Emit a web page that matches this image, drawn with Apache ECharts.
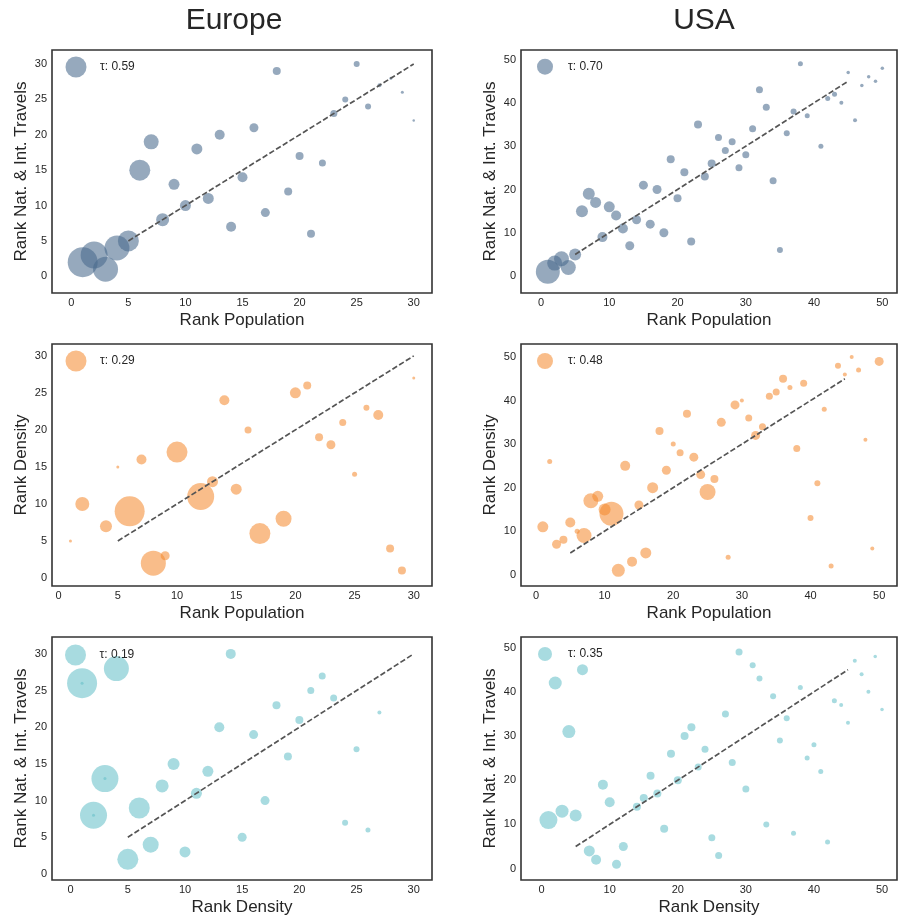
<!DOCTYPE html>
<html>
<head>
<meta charset="utf-8">
<script src="https://cdn.jsdelivr.net/npm/echarts@6/dist/echarts.min.js"></script>
<style>
html,body{margin:0;padding:0;background:#fff;}
#chart{width:898px;height:922px;}
</style>
</head>
<body>
<div id="chart"></div>
<script>
// ---------------- DATA ----------------
const columnTitles = ['Europe', 'USA'];
const euTicks = [0, 5, 10, 15, 20, 25, 30];
const usTicks = [0, 10, 20, 30, 40, 50];

// Europe: Rank Population vs Rank Nat. & Int. Travels
const euPopTravelX = [1,2,3,4,5,6,7,8,9,10,11,12,13,14,15,16,17,18,19,20,21,22,23,24,25,26,27,28,29,30];
const euPopTravelY = [2,3,1,4,5,15,19,8,13,10,18,11,20,7,14,21,9,29,12,17,6,16,23,25,30,24,27,28,26,22];
const euPopTravelW = [30,27,25,25,21,21,15,13,11,11,11,11,10,10,10,9,9,8,8,8,8,7,7,6,6,6,4,3,3,2.5];
const euPopTravelTau = 'τ: 0.59';

// Europe: Rank Population vs Rank Density
const euPopDensX = [1,2,4,5,6,7,8,9,10,12,13,14,15,16,17,19,20,21,22,23,24,25,26,27,28,29,30];
const euPopDensY = [5,10,7,15,9,16,2,3,17,11,13,24,12,20,6,8,25,26,19,18,21,14,23,22,4,1,27];
const euPopDensW = [3,14,12,3,30,10,25,9,21,27,11,10,11,7,21,16,11,8,8,9,7,5,6,10,8,8,3];
const euPopDensTau = 'τ: 0.29';

// Europe: Rank Density vs Rank Nat. & Int. Travels
const euDensTravelX = [1,2,3,4,5,6,7,8,9,10,11,12,13,14,15,16,17,18,19,20,21,22,23,24,25,26,27,1,2,3];
const euDensTravelY = [26,8,13,28,2,9,4,12,15,3,11,14,20,30,5,19,10,23,16,21,25,27,24,7,17,6,22,26,8,13];
const euDensTravelW = [30,27,27,25,21,21,16,13,12,11,11,11,10,10,9,9,9,8,8,8,7,7,7,6,6,5,4,3,3,3];
const euDensTravelTau = 'τ: 0.19';

// USA: Rank Population vs Rank Nat. & Int. Travels
const usPopTravelX = [1,2,3,4,5,6,7,8,9,10,11,12,13,14,15,16,17,18,19,20,21,22,23,24,25,26,27,28,29,30,31,32,33,34,35,36,37,38,39,41,42,43,44,45,46,47,48,49,50];
const usPopTravelY = [1,3,4,2,5,15,19,17,9,16,14,11,7,13,21,12,20,10,27,18,24,8,35,23,26,32,29,31,25,28,34,43,39,22,6,33,38,49,37,30,41,42,40,47,36,44,46,45,48];
const usPopTravelW = [24,15,15,15,12,12,12,11,10,11,10,10,9,9,9,9,9,9,8,8,8,8,8,8,8,7,7,7,7,7,7,7,7,7,6,6,6,5,5,5,5,5,4,3.5,4,3.5,3.5,3.5,3.5];
const usPopTravelTau = 'τ: 0.70';

// USA: Rank Population vs Rank Density
const usPopDensX = [1,2,3,4,5,6,7,8,9,10,11,12,13,14,15,16,17,18,19,20,21,22,23,24,25,26,27,28,29,30,31,32,33,34,35,36,37,38,39,40,41,42,43,44,45,46,47,48,49,50];
const usPopDensY = [11,26,7,8,12,10,9,17,18,15,14,1,25,3,16,5,20,33,24,30,28,37,27,23,19,22,35,4,39,40,36,32,34,41,42,45,43,29,44,13,21,38,2,48,46,50,47,31,6,49];
const usPopDensW = [11,5,9,8,10,5,15,15,11,12,24,13,10,10,9,11,11,8,9,5,7,8,9,9,16,8,9,5,9,4,7,9,7,7,7,8,5,7,7,6,6,5,5,6,4,4,5,4,4,9];
const usPopDensTau = 'τ: 0.48';

// USA: Rank Density vs Rank Nat. & Int. Travels
const usDensTravelX = [1,2,3,4,5,6,7,8,9,10,11,12,14,15,16,17,18,19,20,21,22,23,24,25,26,27,28,29,30,31,32,33,34,35,36,37,38,39,40,41,42,43,44,45,46,47,48,49,50];
const usDensTravelY = [11,42,13,31,12,45,4,2,19,15,1,5,14,16,21,17,9,26,20,30,32,23,27,7,3,35,24,49,18,46,43,10,39,29,34,8,41,25,28,22,6,38,37,33,47,44,40,48,36];
const usDensTravelW = [18,13,13,13,12,11,11,10,10,10,9,9,8,8,8,8,8,8,8,8,8,7,7,7,7,7,7,7,7,6,6,6,6,6,6,5,5,5,5,5,5,5,4,4,4,4,4,3.5,3.5];
const usDensTravelTau = 'τ: 0.35';

// reference diagonals (start, end)
const euDiagonal = [[5, 5], [30, 30]];
const usDiagonal = [[5, 5], [45, 45]];

// ---------------- STYLE ----------------
const FONT = "'Liberation Sans', Arial, sans-serif";
const TXT = '#262626';
const BLUE = 'rgba(72,105,141,0.72)';
const ORANGE = 'rgba(245,138,46,0.70)';
const CYAN = 'rgba(100,190,200,0.70)';
const BUBBLE_SCALE = 1;

const panels = [
  {grid:{left:52, top:50, width:380, height:243}, xr:[-1.69,31.6], yr:[-2.36,31.98], xt:euTicks, yt:euTicks,
   xs:euPopTravelX, ys:euPopTravelY, ws:euPopTravelW, color:BLUE, name:euPopTravelTau,
   xName:'Rank Population', yName:'Rank Nat. & Int. Travels', diag:euDiagonal,
   leg:{left:65.5, top:56.5, size:21, pad:8.5}},
  {grid:{left:521, top:50, width:376, height:243}, xr:[-2.93,52.15], yr:[-3.9,52.2], xt:usTicks, yt:usTicks,
   xs:usPopTravelX, ys:usPopTravelY, ws:usPopTravelW, color:BLUE, name:usPopTravelTau,
   xName:'Rank Population', yName:'Rank Nat. & Int. Travels', diag:usDiagonal,
   leg:{left:537, top:58.7, size:16, pad:10}},
  {grid:{left:52, top:344, width:380, height:242}, xr:[-0.56,31.54], yr:[-1.08,31.6], xt:euTicks, yt:euTicks,
   xs:euPopDensX, ys:euPopDensY, ws:euPopDensW, color:ORANGE, name:euPopDensTau,
   xName:'Rank Population', yName:'Rank Density', diag:euDiagonal,
   leg:{left:65.5, top:350.5, size:21, pad:8.5}},
  {grid:{left:521, top:344, width:376, height:242}, xr:[-2.18,52.6], yr:[-2.6,53.0], xt:usTicks, yt:usTicks,
   xs:usPopDensX, ys:usPopDensY, ws:usPopDensW, color:ORANGE, name:usPopDensTau,
   xName:'Rank Population', yName:'Rank Density', diag:usDiagonal,
   leg:{left:537, top:353, size:16, pad:10}},
  {grid:{left:52, top:637, width:380, height:243}, xr:[-1.63,31.6], yr:[-0.82,32.3], xt:euTicks, yt:euTicks,
   xs:euDensTravelX, ys:euDensTravelY, ws:euDensTravelW, color:CYAN, name:euDensTravelTau,
   xName:'Rank Density', yName:'Rank Nat. & Int. Travels', diag:euDiagonal,
   leg:{left:65, top:644.5, size:21, pad:8.5}},
  {grid:{left:521, top:637, width:376, height:243}, xr:[-3.03,52.2], yr:[-2.57,52.4], xt:usTicks, yt:usTicks,
   xs:usDensTravelX, ys:usDensTravelY, ws:usDensTravelW, color:CYAN, name:usDensTravelTau,
   xName:'Rank Density', yName:'Rank Nat. & Int. Travels', diag:usDiagonal,
   leg:{left:538, top:647, size:14, pad:11}}
];

const option = {
  backgroundColor: '#ffffff',
  animation: false,
  textStyle: {fontFamily: FONT},
  grid: [], xAxis: [], yAxis: [], series: [], legend: [],
  graphic: [
    {type:'text', x:234, y:20.5, style:{text:columnTitles[0], font:'30px ' + FONT, fill:TXT, textAlign:'center', textVerticalAlign:'middle'}},
    {type:'text', x:704, y:21, style:{text:columnTitles[1], font:'30px ' + FONT, fill:TXT, textAlign:'center', textVerticalAlign:'middle'}}
  ]
};

panels.forEach((p, i) => {
  option.grid.push(Object.assign({show:true, borderColor:'#333', borderWidth:1.6, backgroundColor:'#fff'}, p.grid));
  option.xAxis.push({
    type:'value', gridIndex:i, min:p.xr[0], max:p.xr[1],
    axisLine:{show:false}, axisTick:{show:false}, splitLine:{show:false},
    axisLabel:{customValues:p.xt, color:TXT, fontSize:11, margin:4, fontFamily:FONT},
    name:p.xName, nameLocation:'middle', nameGap:19,
    nameTextStyle:{fontSize:17, color:TXT, fontFamily:FONT, verticalAlign:'top'}
  });
  option.yAxis.push({
    type:'value', gridIndex:i, min:p.yr[0], max:p.yr[1],
    axisLine:{show:false}, axisTick:{show:false}, splitLine:{show:false},
    axisLabel:{customValues:p.yt, color:TXT, fontSize:11, margin:5, fontFamily:FONT},
    name:p.yName, nameLocation:'middle', nameGap:22,
    nameTextStyle:{fontSize:17, color:TXT, fontFamily:FONT}
  });
  option.series.push({
    type:'scatter', name:p.name, xAxisIndex:i, yAxisIndex:i,
    data:p.xs.map((x, k) => [x, p.ys[k], p.ws[k]]),
    symbol:'circle',
    symbolSize:(v) => v[2] * BUBBLE_SCALE,
    itemStyle:{color:p.color},
    emphasis:{disabled:true}, z:2
  });
  option.series.push({
    type:'line', name:'diag' + i, xAxisIndex:i, yAxisIndex:i,
    data:p.diag, symbol:'none', silent:true,
    lineStyle:{color:'#555', width:1.7, type:[5.5, 2.4]}, z:3
  });
  option.legend.push({
    data:[p.name], left:p.leg.left, top:p.leg.top, orient:'vertical', padding:0,
    icon:'circle', itemWidth:p.leg.size, itemHeight:p.leg.size,
    selectedMode:false,
    textStyle:{fontSize:12, color:TXT, fontFamily:FONT, padding:[0,0,0,p.leg.pad]}
  });
});

const chart = echarts.init(document.getElementById('chart'), null, {renderer:'canvas'});
chart.setOption(option);
</script>
</body>
</html>
